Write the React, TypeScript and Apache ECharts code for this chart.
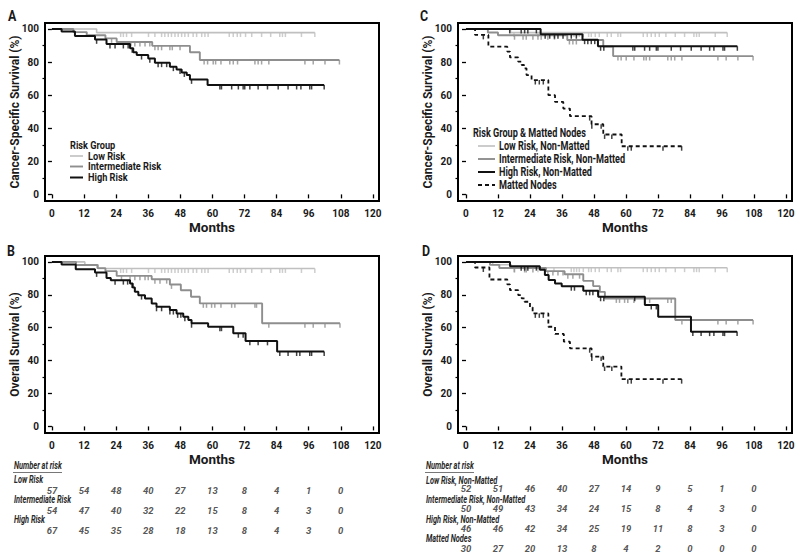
import React, { useEffect, useRef } from "react";
import * as echarts from "echarts";

const FONT = 'Roboto, "Liberation Sans", "Noto Sans", sans-serif';

// ---------- Axis ticks ----------
const monthTicks = [0, 12, 24, 36, 48, 60, 72, 84, 96, 108, 120];
const pctTicks = [0, 20, 40, 60, 80, 100];
const pctMinorTicks = [10, 30, 50, 70, 90];

// ---------- Panel A: cancer-specific survival by risk group ----------
const lowA_t = [0, 16.7];
const lowA_s = [100, 97.8];
const lowA_end = 98.3;
const lowA_c = [25.7, 26.7, 27.9, 29.8, 36.1, 38.5, 41.0, 42.2, 43.5, 44.7, 46.0, 47.2, 48.5, 49.7, 51.0, 52.8, 54.1, 56.0, 57.2, 58.4, 66.3, 67.8, 69.3, 70.5, 72.4, 74.7, 78.4, 81.8, 85.2, 86.2, 87.3, 93.3, 98.3];

const intA_t = [0, 8, 13, 20, 24.2, 37.5, 51.6, 55.3];
const intA_s = [100, 98.1, 96.2, 94.3, 92.1, 89.8, 85.9, 81.2];
const intA_end = 107.5;
const intA_c = [22.3, 29.5, 31.0, 32.9, 34.8, 36.6, 38.5, 39.7, 41.0, 44.1, 45.0, 47.9, 56.9, 58.2, 60.3, 61.2, 63.2, 66.5, 67.8, 69.4, 75.9, 77.1, 78.4, 81.1, 94.6, 97.7, 102.1, 107.5];

const highA_t = [0, 3.6, 8.6, 16.1, 20.4, 29.2, 30.4, 31.7, 36, 38.5, 44.1, 46.6, 48.5, 50.4, 51.6, 58.2];
const highA_s = [100, 98.4, 95.8, 93.7, 90.9, 88.3, 85.9, 84.2, 82.2, 79.6, 77.2, 75.5, 73.7, 72.1, 69.5, 66.1];
const highA_end = 101.8;
const highA_c = [16.7, 21.7, 23.6, 26.7, 28.5, 30.0, 33.5, 36.6, 39.7, 41.0, 42.9, 45.4, 47.9, 49.5, 52.2, 62.8, 63.4, 67.2, 69.7, 71.5, 72.1, 74.0, 77.1, 80.6, 84.6, 88.3, 91.5, 93.1, 96.4, 97.1, 101.8];

// ---------- Panel B: overall survival by risk group ----------
const lowB_t = [0, 12.3, 17.3];
const lowB_s = [100, 98.2, 96];
const lowB_end = 98.3;
const lowB_c = [25.7, 26.7, 27.9, 29.8, 36.1, 38.5, 41.0, 42.2, 43.5, 44.7, 46.0, 47.2, 48.5, 49.7, 51.0, 52.8, 54.1, 56.0, 57.2, 58.4, 66.3, 67.8, 69.3, 70.5, 72.4, 74.7, 78.4, 81.8, 85.2, 86.2, 87.3, 93.3, 98.3];

const intB_t = [0, 9, 17, 20, 24.2, 37.3, 44.1, 48.2, 52, 55.3, 78.6];
const intB_s = [100, 98.1, 96.2, 94.4, 91.5, 89.5, 86.3, 82.8, 78.8, 74.8, 62.7];
const intB_end = 107.7;
const intB_c = [26.0, 29.2, 31.0, 32.9, 34.8, 36.0, 38.5, 40.4, 42.9, 44.7, 56.6, 57.8, 59.7, 60.9, 63.2, 67.2, 68.4, 75.9, 76.5, 81.1, 94.6, 97.7, 102.1, 107.7];

const highB_t = [0, 3.6, 8.9, 16.1, 20.4, 22, 29.2, 30.2, 31, 32.3, 34.8, 37.3, 39.1, 44.1, 46.6, 49.1, 51, 52.2, 58.4, 67.8, 72.4, 84.2];
const highB_s = [100, 98.4, 95.6, 93.6, 90.3, 88.9, 86.9, 84.5, 81.8, 79.8, 77.8, 74.8, 72.7, 70.7, 68.7, 66.7, 64.7, 62.7, 60.6, 56.6, 52, 45.5];
const highB_end = 101.8;
const highB_c = [16.7, 23.6, 26.7, 28.3, 30.0, 33.5, 39.1, 41.0, 44.1, 45.4, 47.0, 48.2, 49.7, 52.2, 62.8, 63.4, 69.7, 71.5, 74.0, 77.1, 80.6, 85.2, 88.3, 91.5, 92.7, 96.4, 97.1, 101.8];

// ---------- Panel C: cancer-specific survival by risk group & matted nodes ----------
const lowC_t = [0, 16.7];
const lowC_s = [100, 97.8];
const lowC_end = 98;
const lowC_c = [18, 27, 33, 39.5, 40.5, 41.5, 42.5, 44, 46, 47, 48.5, 50, 53, 54.5, 57, 58, 66.5, 68, 69.5, 71, 72.5, 75, 78.5, 82, 85.5, 86.5, 87.5, 93.5, 98];

const intC_t = [0, 8.2, 12, 38, 51.5, 55.2];
const intC_s = [100, 97.9, 96.2, 93.3, 89.3, 83.6];
const intC_end = 107.7;
const intC_c = [18.2, 21.4, 22.6, 25.1, 27, 28.2, 30.7, 33.2, 38.8, 40.1, 41.4, 57, 58.2, 60.1, 63, 66.7, 67.6, 68.9, 75.7, 77, 78.3, 81, 94.5, 97.6, 102, 107.7];

const highC_t = [0, 28, 43.7, 49.5];
const highC_s = [100, 96.8, 93.5, 89.5];
const highC_end = 101.8;
const highC_c = [16.4, 20.7, 22, 23.2, 26.4, 29.7, 31.4, 33.2, 34.5, 36.4, 39.5, 41.4, 44.5, 45.7, 47, 48.3, 50.5, 51.7, 62.6, 63.3, 67, 68.9, 71.4, 72, 77, 80.5, 84.5, 88.2, 91.4, 93, 96.4, 97, 101.8];

const matC_t = [0, 3.4, 8.4, 15.5, 16.5, 19.6, 20.9, 21.8, 22.7, 24.6, 30.9, 33.4, 36.5, 39, 47.1, 51.5, 58.4];
const matC_s = [100, 96.4, 89.3, 86.3, 82.8, 80.2, 78.2, 76.2, 72.1, 69.1, 60, 55.9, 51.9, 47.3, 42.4, 36.2, 29.1];
const matC_end = 80.9;
const matC_c = [6.5, 26, 27.5, 29, 46.4, 47.2, 50.7, 52, 54.7, 60.7, 62, 73.9, 80.9];

// ---------- Panel D: overall survival by risk group & matted nodes ----------
const lowD_t = [0, 10, 17];
const lowD_s = [100, 98.3, 96.5];
const lowD_end = 98;
const lowD_c = [18, 27, 33, 39.5, 40.5, 41.5, 42.5, 44, 46, 47, 48.5, 50, 53, 54.5, 57, 58, 66.5, 68, 69.5, 71, 72.5, 75, 78.5, 82, 85.5, 86.5, 87.5, 93.5, 98];

const intD_t = [0, 9, 12.5, 30, 37, 44, 47.7, 50.2, 52.1, 78.5];
const intD_s = [100, 98.2, 96.3, 94.4, 92.5, 88.5, 85.3, 81.8, 77.8, 64.7];
const intD_end = 107.7;
const intD_c = [18.2, 22, 22.6, 25.1, 30.7, 32.6, 34.5, 36.4, 38.2, 40.1, 42.6, 56.4, 57.6, 59.5, 60.7, 63, 67, 68.9, 75.7, 77, 81, 94.5, 97.6, 102, 107.7];

const highD_t = [0, 16.5, 27.7, 29.6, 31, 33.4, 35.9, 44, 49.6, 67.1, 72.1, 84.4];
const highD_s = [100, 97.4, 95.2, 92, 89, 86.9, 85.2, 82.4, 78.8, 73.8, 66.7, 57.6];
const highD_end = 101.7;
const highD_c = [20.7, 22, 23.2, 26.4, 39.5, 40.7, 45.1, 46.4, 47.6, 49.5, 50.5, 51.7, 63.3, 69.5, 71.4, 85.1, 88.2, 91.4, 93, 96.4, 97, 101.7];

const matD_t = [0, 3.4, 8.8, 15.5, 16.5, 19.6, 20.9, 22, 24, 25, 30.9, 33.4, 36.7, 39, 47.1, 51.5, 58.3];
const matD_s = [100, 96.6, 89.3, 86.3, 82.8, 79.8, 77.8, 75.8, 72.4, 68.7, 60.6, 56.2, 51.5, 47.5, 42.4, 36.4, 28.7];
const matD_end = 80.9;
const matD_c = [6.5, 26, 27.5, 29, 46.4, 47.2, 50.7, 52, 54.7, 60.7, 62, 73.9, 80.9];

// ---------- Number at risk ----------
const riskMonths = [0, 12, 24, 36, 48, 60, 72, 84, 96, 108];
const riskB_low = [57, 54, 48, 40, 27, 13, 8, 4, 1, 0];
const riskB_int = [54, 47, 40, 32, 22, 15, 8, 4, 3, 0];
const riskB_high = [67, 45, 35, 28, 18, 13, 8, 4, 3, 0];
const riskD_low = [52, 51, 46, 40, 27, 14, 9, 5, 1, 0];
const riskD_int = [50, 49, 43, 34, 24, 15, 8, 4, 3, 0];
const riskD_high = [46, 46, 42, 34, 25, 19, 11, 8, 3, 0];
const riskD_mat = [30, 27, 20, 13, 8, 4, 2, 0, 0, 0];

const namesAB = ["Low Risk", "Intermediate Risk", "High Risk"];
const namesCD = ["Low Risk, Non-Matted", "Intermediate Risk, Non-Matted", "High Risk, Non-Matted", "Matted Nodes"];

const COL_LOW = "#c0c0c0";
const COL_INT = "#8e8e8e";
const COL_HIGH = "#111111";
const TXT = "#1a1a1a";

function stepData(t: number[], s: number[], end: number) {
  const d = t.map((x, i) => [x, s[i]]);
  d.push([end, s[s.length - 1]]);
  return d;
}
function censorData(t: number[], s: number[], c: number[]) {
  return c.map((m) => {
    let v = s[0];
    for (let i = 0; i < t.length; i++) if (t[i] <= m) v = s[i];
    return [m, v];
  });
}

type Curve = { name: string; t: number[]; s: number[]; end: number; c: number[]; color: string; width: number; dash?: number[] };

const styleLow = { color: COL_LOW, width: 1.6 };
const styleInt = { color: COL_INT, width: 1.9 };
const styleHigh = { color: COL_HIGH, width: 2 };
const styleMat = { color: COL_HIGH, width: 1.8, dash: [4, 3] };

const panels: { curves: Curve[]; ytitle: string; grid: any; xmin: number }[] = [
  {
    ytitle: "Cancer-Specific Survival (%)",
    grid: { left: 45, top: 23, width: 334, height: 178 },
    xmin: -2.6,
    curves: [
      { name: namesAB[0], t: lowA_t, s: lowA_s, end: lowA_end, c: lowA_c, ...styleLow },
      { name: namesAB[1], t: intA_t, s: intA_s, end: intA_end, c: intA_c, ...styleInt },
      { name: namesAB[2], t: highA_t, s: highA_s, end: highA_end, c: highA_c, ...styleHigh },
    ],
  },
  {
    ytitle: "Overall Survival (%)",
    grid: { left: 45, top: 256, width: 334, height: 177 },
    xmin: -2.6,
    curves: [
      { name: namesAB[0], t: lowB_t, s: lowB_s, end: lowB_end, c: lowB_c, ...styleLow },
      { name: namesAB[1], t: intB_t, s: intB_s, end: intB_end, c: intB_c, ...styleInt },
      { name: namesAB[2], t: highB_t, s: highB_s, end: highB_end, c: highB_c, ...styleHigh },
    ],
  },
  {
    ytitle: "Cancer-Specific Survival (%)",
    grid: { left: 458, top: 23, width: 334, height: 178 },
    xmin: -3,
    curves: [
      { name: namesCD[0], t: lowC_t, s: lowC_s, end: lowC_end, c: lowC_c, ...styleLow },
      { name: namesCD[1], t: intC_t, s: intC_s, end: intC_end, c: intC_c, ...styleInt },
      { name: namesCD[2], t: highC_t, s: highC_s, end: highC_end, c: highC_c, ...styleHigh },
      { name: namesCD[3], t: matC_t, s: matC_s, end: matC_end, c: matC_c, ...styleMat },
    ],
  },
  {
    ytitle: "Overall Survival (%)",
    grid: { left: 458, top: 256, width: 334, height: 177 },
    xmin: -3,
    curves: [
      { name: namesCD[0], t: lowD_t, s: lowD_s, end: lowD_end, c: lowD_c, ...styleLow },
      { name: namesCD[1], t: intD_t, s: intD_s, end: intD_end, c: intD_c, ...styleInt },
      { name: namesCD[2], t: highD_t, s: highD_s, end: highD_end, c: highD_c, ...styleHigh },
      { name: namesCD[3], t: matD_t, s: matD_s, end: matD_end, c: matD_c, ...styleMat },
    ],
  },
];

function buildOption() {
  const grids: any[] = [];
  const xAxes: any[] = [];
  const yAxes: any[] = [];
  const series: any[] = [];
  const bold = { fontFamily: FONT, fontWeight: "bold", color: TXT };

  panels.forEach((p, i) => {
    grids.push({ ...p.grid, show: true, borderColor: "#000", borderWidth: 2, backgroundColor: "transparent", containLabel: false });
    xAxes.push({
      gridIndex: i, type: "value", min: p.xmin, max: 122.3,
      axisLine: { show: false }, splitLine: { show: false },
      axisTick: { show: true, customValues: monthTicks, length: 4, lineStyle: { color: "#000", width: 1.3 } },
      axisLabel: { customValues: monthTicks, margin: 7, fontSize: 10, ...bold },
      name: "Months", nameLocation: "middle", nameGap: 19, nameMoveOverlap: false,
      nameTextStyle: { fontSize: 13.5, ...bold },
    });
    yAxes.push({
      gridIndex: i, type: "value", min: -4, max: 103.6, position: "left",
      axisLine: { show: false }, splitLine: { show: false },
      axisTick: { show: true, customValues: pctTicks, length: 4, lineStyle: { color: "#000", width: 1.3 } },
      axisLabel: { customValues: pctTicks, margin: 6, fontSize: 10, ...bold },
      name: p.ytitle, nameLocation: "middle", nameRotate: 90, nameGap: 24, nameMoveOverlap: false,
      nameTextStyle: { fontSize: 12, ...bold },
    });
    p.curves.forEach((c, k) => {
      series.push({
        type: "line", name: c.name, xAxisIndex: i, yAxisIndex: i,
        data: stepData(c.t, c.s, c.end), step: "end", symbol: "none", silent: true,
        lineStyle: { color: c.color, width: c.width, type: c.dash ? c.dash : "solid" },
        itemStyle: { color: c.color }, z: 2 + k,
      });
      series.push({
        type: "scatter", name: c.name + " (censored)", xAxisIndex: i, yAxisIndex: i,
        data: censorData(c.t, c.s, c.c), symbol: "rect", symbolSize: [1.5, 4.5], symbolOffset: [0, 2.2],
        itemStyle: { color: c.color }, silent: true, z: 2 + k,
      });
    });
  });
  // minor y ticks
  panels.forEach((p, i) => {
    yAxes.push({
      gridIndex: i, type: "value", min: -4, max: 103.6, position: "left", offset: 0,
      axisLine: { show: false }, splitLine: { show: false }, axisLabel: { show: false },
      axisTick: { show: true, customValues: pctMinorTicks, length: 2.5, lineStyle: { color: "#000", width: 1.2 } },
    });
  });

  // number-at-risk tables (grid 4 under B, grid 5 under D)
  const tables = [
    { grid: { left: 45, width: 334, top: 480, height: 60 }, xmin: -2.6, rows: [riskB_low, riskB_int, riskB_high] },
    { grid: { left: 458, width: 334, top: 478.5, height: 80 }, xmin: -3, rows: [riskD_low, riskD_int, riskD_high, riskD_mat] },
  ];
  tables.forEach((tb, j) => {
    const gi = 4 + j;
    grids.push({ ...tb.grid, show: false });
    xAxes.push({ gridIndex: gi, type: "value", min: tb.xmin, max: 122.3, show: false });
    yAxes.push({ gridIndex: gi, type: "value", min: -0.5, max: tb.rows.length - 0.5, inverse: true, show: false });
    const data: any[] = [];
    tb.rows.forEach((row, r) => row.forEach((v, k) => data.push([riskMonths[k], r, v])));
    series.push({
      type: "scatter", name: "risk table " + j, xAxisIndex: gi, yAxisIndex: 8 + j,
      data, symbolSize: 0, silent: true,
      label: {
        show: true, position: "inside", formatter: (q: any) => String(q.value[2]),
        fontFamily: FONT, fontWeight: "bold", fontStyle: "italic", fontSize: 9.5, color: "#2a2a2a",
      },
    });
  });

  const txt = (x: number, y: number, text: string, size: number, sx: number, extra: any = {}) => ({
    type: "text", x, y, scaleX: sx, silent: true,
    style: { text, fontFamily: FONT, fontWeight: "bold", fontSize: size, fill: TXT, verticalAlign: "middle", ...extra },
  });
  const it = { fontStyle: "italic", fill: "#2a2a2a" };
  const legLine = (x1: number, x2: number, y: number, st: any) => ({
    type: "line", silent: true, shape: { x1, y1: y, x2, y2: y },
    style: { stroke: st.color, lineWidth: st.width, lineDash: st.dash || null },
  });

  const graphic: any[] = [
    txt(8, 15, "A", 15.5, 0.8),
    txt(7, 250, "B", 15.5, 0.8),
    txt(420, 15, "C", 15.5, 0.8),
    txt(422, 250, "D", 15.5, 0.8),
    // legend A
    txt(70, 145, "Risk Group", 11.5, 0.8),
    legLine(70, 83, 156, styleLow), txt(88, 156, namesAB[0], 11.5, 0.8),
    legLine(70, 83, 166.5, styleInt), txt(88, 166.5, namesAB[1], 11.5, 0.8),
    legLine(70, 83, 177.5, styleHigh), txt(88, 177.5, namesAB[2], 11.5, 0.8),
    // legend C
    txt(473, 133, "Risk Group & Matted Nodes", 12, 0.76),
    legLine(478, 495, 146, styleLow), txt(499, 146, namesCD[0], 12, 0.76),
    legLine(478, 495, 159, styleInt), txt(499, 159, namesCD[1], 12, 0.76),
    legLine(478, 495, 172, styleHigh), txt(499, 172, namesCD[2], 12, 0.76),
    legLine(478, 495, 185, styleMat), txt(499, 185, namesCD[3], 12, 0.76),
    // table B
    txt(14, 466, "Number at risk", 10, 0.74, it),
    { type: "line", silent: true, shape: { x1: 13, y1: 472.5, x2: 62, y2: 472.5 }, style: { stroke: "#777", lineWidth: 1 } },
    txt(14, 479.3, namesAB[0], 10, 0.74, it),
    txt(14, 499.3, namesAB[1], 10, 0.74, it),
    txt(14, 519.3, namesAB[2], 10, 0.74, it),
    // table D
    txt(426, 466, "Number at risk", 10, 0.74, it),
    { type: "line", silent: true, shape: { x1: 425, y1: 472.5, x2: 474, y2: 472.5 }, style: { stroke: "#777", lineWidth: 1 } },
    txt(426, 480.3, namesCD[0], 10, 0.74, it),
    txt(426, 499.3, namesCD[1], 10, 0.74, it),
    txt(426, 519.5, namesCD[2], 10, 0.74, it),
    txt(426, 539, namesCD[3], 10, 0.74, it),
  ];

  return {
    animation: false,
    backgroundColor: "#fff",
    grid: grids,
    xAxis: xAxes,
    yAxis: yAxes,
    series,
    graphic,
  };
}

export default function App() {
  const ref = useRef<HTMLDivElement>(null);
  useEffect(() => {
    if (!ref.current) return;
    const chart = echarts.init(ref.current, undefined, { renderer: "svg" });
    chart.setOption(buildOption() as any);
    return () => chart.dispose();
  }, []);
  return <div ref={ref} style={{ position: "fixed", left: 0, top: 0, width: 800, height: 558, background: "#fff" }} />;
}
